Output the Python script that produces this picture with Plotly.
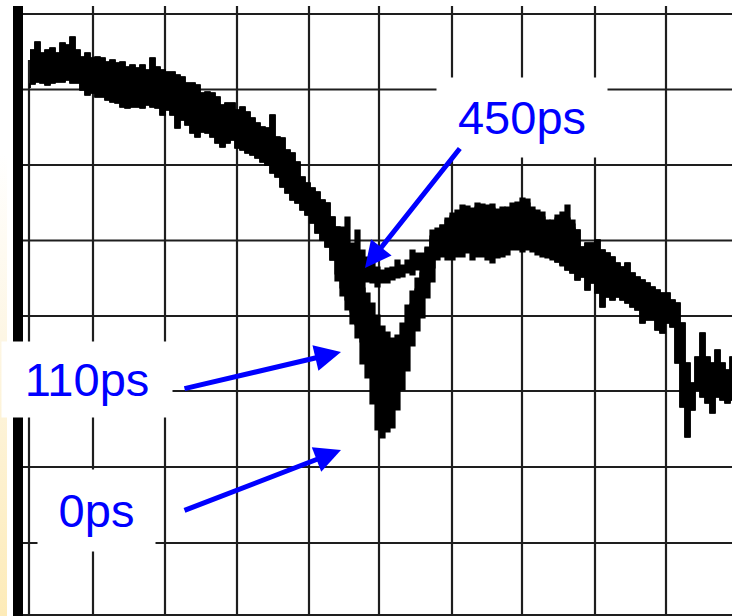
import plotly.graph_objects as go

# ---- data (x: sample index, y: level in ADC counts) ----
HEAD_X = [30, 35, 40, 45, 50, 55, 60, 65, 70, 75, 80, 85, 90, 95, 100, 105, 110, 115, 120, 125,
          130, 135, 140, 145, 150, 155, 160, 165, 170, 175, 180, 185, 190, 195, 200, 205, 210, 215, 220, 225,
          230, 235, 240, 245, 250, 255, 260, 265, 270, 275, 280, 285, 290, 295, 300, 305, 310, 315, 320, 325,
          330, 335]
HEAD_TOP = [566, 574, 563, 566, 568, 563, 573, 571, 579, 566, 559, 563, 558, 559, 558, 554, 556, 553, 554, 549,
            551, 548, 551, 546, 558, 549, 546, 544, 544, 541, 539, 533, 533, 531, 523, 524, 523, 519, 511, 513,
            513, 506, 509, 504, 498, 493, 489, 488, 501, 479, 478, 466, 463, 454, 439, 433, 428, 424, 416, 413,
            399, 389]
HEAD_BOT = [528, 532, 534, 533, 531, 533, 534, 534, 536, 533, 533, 526, 521, 523, 519, 519, 516, 514, 513, 509,
            508, 509, 509, 508, 511, 509, 508, 501, 506, 501, 488, 496, 491, 483, 479, 484, 483, 479, 473, 469,
            473, 476, 468, 466, 463, 461, 458, 454, 451, 443, 439, 429, 423, 416, 413, 406, 401, 393, 383, 376,
            369, 356]

MID_X = [340, 345, 350, 355, 360, 365, 370, 375, 380, 385, 390, 395, 400, 405, 410, 415, 420, 425, 430, 435,
         440, 445, 450, 455, 460, 465, 470, 475, 480, 485, 490, 495, 500, 505, 510, 515, 520, 525, 530, 535,
         540, 545, 550, 555, 560, 565, 570]
T450_TOP = [389, 399, 373, 386, 366, 359, 353, 349, 346, 348, 349, 356, 351, 356, 366, 363, 363, 369, 386, 379,
            383, 379, 383, 379, 386, 383, 386, 386, 383, 386, 386, 383, 384, 388, 390, 394, 396, 394, 396, 391,
            391, 391, 388, 388, 386, 384, 388]
T450_BOT = [356, 353, 349, 348, 343, 339, 334, 333, 329, 333, 333, 336, 338, 339, 343, 341, 346, 346, 353, 356,
            356, 359, 356, 356, 359, 359, 363, 356, 359, 359, 356, 353, 358, 359, 361, 366, 366, 364, 366, 364,
            361, 359, 358, 356, 354, 351, 346]
T110_TOP = [381, 372, 366, 354, 342, 323, 313, 301, 290, 284, 278, 281, 293, 311, 325, 338, 353, 368, 380, 388,
            391, 398, 403, 401, 411, 404, 408, 413, 406, 411, 408, 406, 409, 403, 413, 408, 418, 413, 409, 406,
            399, 394, 396, 398, 404, 411, 396]
T110_BOT = [342, 328, 316, 304, 291, 274, 264, 252, 244, 235, 230, 232, 244, 259, 274, 289, 304, 319, 334, 348,
            364, 368, 371, 373, 376, 374, 376, 378, 376, 378, 376, 376, 376, 376, 378, 376, 378, 376, 374, 371,
            366, 364, 361, 358, 354, 351, 346]
T0_TOP = [378, 366, 357, 343, 328, 306, 289, 270, 250, 236, 240, 258, 274, 292, 312, 327, 343, 362, 377, 385,
          391, 396, 400, 406, 402, 410, 405, 409, 412, 407, 412, 407, 404, 409, 407, 414, 411, 417, 406, 402,
          404, 396, 392, 401, 396, 398, 392]
T0_BOT = [335, 320, 306, 292, 278, 252, 238, 212, 186, 178, 184, 188, 206, 226, 245, 270, 285, 298, 318, 334,
          364, 369, 372, 374, 375, 376, 377, 376, 378, 376, 378, 377, 375, 376, 377, 378, 376, 376, 372, 370,
          366, 364, 360, 358, 354, 350, 346]

TAIL_X = [575, 580, 585, 590, 595, 600, 605, 610, 615, 620, 625, 630, 635, 640, 645, 650, 655, 660, 665, 670,
          675, 680, 685, 690, 695, 700, 705, 710, 715, 720, 725, 730, 735]
TAIL_TOP = [386, 369, 373, 373, 376, 366, 363, 359, 353, 349, 353, 343, 339, 336, 333, 329, 326, 323, 323, 316,
            313, 293, 253, 233, 259, 283, 259, 253, 266, 253, 246, 259, 256]
TAIL_BOT = [343, 336, 339, 326, 333, 323, 309, 319, 316, 319, 316, 313, 309, 306, 293, 296, 296, 286, 283, 293,
            289, 253, 209, 179, 206, 226, 219, 213, 203, 219, 216, 213, 216]

SERIES = {"0ps": (T0_TOP, T0_BOT), "110ps": (T110_TOP, T110_BOT), "450ps": (T450_TOP, T450_BOT)}

# grid positions (sample / level units)
GRID_X = [29, 93, 165, 237, 309, 379, 452, 522, 595, 666]
GRID_Y = [602, 526.5, 451, 375.5, 300, 225, 149, 73, 1]

X_RANGE = [0, 732]
Y_RANGE = [0, 616]

fig = go.Figure()

# left decorative gradient strip
fig.add_trace(go.Scatter(x=[0, 7, 7, 0, 0], y=[0, 0, 616, 616, 0], mode="lines", fill="toself",
                         line=dict(width=0), hoverinfo="skip", showlegend=False,
                         fillgradient=dict(type="vertical",
                                           colorscale=[[0, "#fdebb8"], [0.45, "#fdf6e4"], [0.75, "#ffffff"], [1, "#ffffff"]])))

for name, (top, bot) in SERIES.items():
    xs = HEAD_X + MID_X + TAIL_X
    tops = HEAD_TOP + top + TAIL_TOP
    bots = HEAD_BOT + bot + TAIL_BOT
    fig.add_trace(go.Scatter(x=xs + xs[::-1], y=tops + bots[::-1], mode="lines", fill="toself",
                             fillcolor="black", line=dict(color="black", width=1.2, shape="hv"),
                             name=name, showlegend=False, hoverinfo="skip"))

shapes = []
for i, gx in enumerate(GRID_X):
    y1 = 556 if i == 0 else 610
    shapes.append(dict(type="line", xref="x", yref="y", x0=gx, x1=gx, y0=0, y1=y1,
                       line=dict(color="#1e1e1e", width=2.2), layer="below"))
for gy in GRID_Y:
    shapes.append(dict(type="line", xref="x", yref="y", x0=23, x1=732, y0=gy, y1=gy,
                       line=dict(color="#1e1e1e", width=2.2), layer="below"))
# thick left bar
shapes.append(dict(type="rect", xref="x", yref="y", x0=13, x1=23, y0=0, y1=610,
                   fillcolor="black", line=dict(width=0), layer="above"))

BLUE = "#0000ff"
FONT = dict(family="Liberation Sans, Arial, sans-serif", size=47, color=BLUE)

annotations = [
    dict(x=522, y=498.5, xref="x", yref="y", text="450ps", showarrow=False, font=FONT,
         bgcolor="white", width=170, height=79, align="center", valign="middle", borderpad=0),
    dict(x=87, y=236.5, xref="x", yref="y", text="110ps", showarrow=False, font=FONT,
         bgcolor="white", width=170, height=75, align="center", valign="middle", borderpad=0),
    dict(x=96.5, y=105.5, xref="x", yref="y", text="0ps", showarrow=False, font=FONT,
         bgcolor="white", width=117, height=81, align="center", valign="middle", borderpad=0),
]
ARROWS = [((365, 348), (461, 469)), ((341, 264), (183, 227)), ((341, 166), (183, 105))]
for (tx, ty), (sx, sy) in ARROWS:
    annotations.append(dict(x=tx, y=ty, ax=sx, ay=sy, xref="x", yref="y", axref="x", ayref="y",
                            text="", showarrow=True, arrowhead=2, arrowsize=1.05, arrowwidth=5,
                            arrowcolor=BLUE, standoff=0, startstandoff=0))

fig.update_layout(
    width=732, height=616, margin=dict(l=0, r=0, t=0, b=0),
    paper_bgcolor="white", plot_bgcolor="white",
    xaxis=dict(range=X_RANGE, visible=False, showgrid=False, zeroline=False),
    yaxis=dict(range=Y_RANGE, visible=False, showgrid=False, zeroline=False),
    shapes=shapes, annotations=annotations, showlegend=False,
)

fig.write_html("out.html")
